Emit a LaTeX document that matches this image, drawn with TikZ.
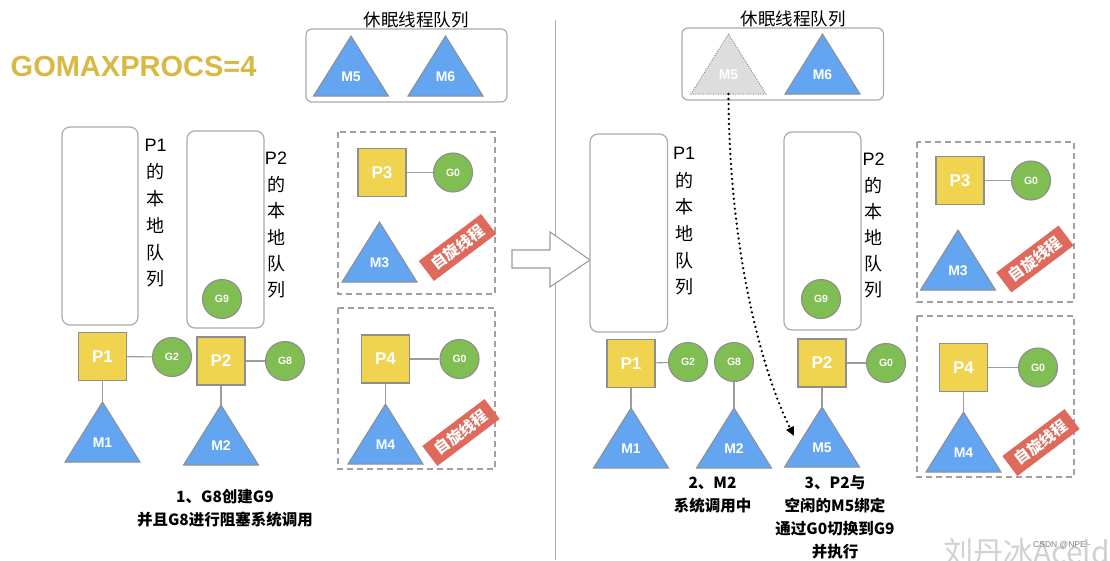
\documentclass[tikz,border=0pt]{standalone}
\usepackage{fontspec}
\setmainfont{Liberation Sans}
\newfontfamily\cjk{Noto Sans CJK SC}
\usetikzlibrary{arrows.meta}
\definecolor{pyel}{HTML}{F0D34E}
\definecolor{ggreen}{HTML}{80BD52}
\definecolor{mblue}{HTML}{63A5F0}
\definecolor{bred}{HTML}{DF6A5B}
\definecolor{gold}{HTML}{D9B944}
\definecolor{gbord}{HTML}{8E8E8E}
\definecolor{lgray}{HTML}{9C9C9C}
\definecolor{qgray}{HTML}{ABABAB}
\definecolor{dgray}{HTML}{A0A0A0}
\definecolor{ghost}{HTML}{DDDDDD}
\tikzset{
  psq/.style={draw=gbord, fill=pyel, minimum size=48pt, inner sep=0, line width=1.1pt, text=white, font=\fontsize{17}{17}\selectfont\bfseries},
  gcir/.style={circle, draw=gbord, fill=ggreen, minimum size=39pt, inner sep=0, line width=1.1pt, text=white, font=\fontsize{10.5}{10.5}\selectfont\bfseries},
  trib/.style={draw=gbord, fill=mblue, line width=1pt},
  trighost/.style={draw=gbord, fill=ghost, line width=1pt, dash pattern=on 1pt off 1.5pt},
  mlab/.style={text=white, font=\fontsize{14}{14}\selectfont\bfseries, inner sep=0},
  conn/.style={draw=lgray, line width=1.1pt},
  qbox/.style={draw=qgray, rounded corners=8pt, line width=1.2pt},
  sbox/.style={draw=qgray, rounded corners=6pt, line width=1.2pt},
  dbox/.style={draw=dgray, dash pattern=on 6pt off 4pt, line width=1.2pt},
  banner/.style={fill=bred, text=white, font=\cjk\bfseries\fontsize{15.5}{15.5}\selectfont, minimum width=78pt, minimum height=25pt, inner sep=0, rotate=37},
  vtext/.style={font=\cjk\fontsize{18}{18}\selectfont, inner sep=0},
  vlat/.style={font=\fontsize{18}{18}\selectfont, inner sep=0},
  captxt/.style={align=center, font=\cjk\bfseries\fontsize{15.5}{23}\selectfont, inner sep=0},
  stitle/.style={font=\cjk\fontsize{17.5}{17.5}\selectfont, inner sep=0},
  dotarrow/.style={line width=2.6pt, dash pattern=on 0pt off 5pt, line cap=round, -{Triangle[length=9pt,width=8pt]}},
}
% triangle: name, apex x, apex y, label, style
\newcommand\mtri[5]{%
  \coordinate (#1t) at (#2,#3);
  \coordinate (#1b) at (#2,#3+60);
  \draw[#5] (#1t) -- ++(-37.5,60) -- ++(75,0) -- cycle;
  \node[mlab] (#1) at (#2,#3+41) {#4};
}
% vertical queue label: prefix, x, first y, step, P-name
\newcommand\vlabel[5]{%
  \node[vlat] (#1p) at (#2,#3) {#5};
  \foreach \ch [count=\i] in {的,本,地,队,列}
    \node[vtext] (#1c\i) at (#2,#3+#4*\i) {\ch};
}
\begin{document}
\begin{tikzpicture}[x=1pt,y=-1pt]
\useasboundingbox (0,0) rectangle (1110,560);
\fill[white] (0,0) rectangle (1110,560);

% divider and big arrow
\coordinate (divtop) at (555.5,20);
\coordinate (divbot) at (555.5,560);
\draw[draw=qgray, line width=1pt] (divtop) -- (divbot);
\draw[draw=lgray, fill=white, line width=1.1pt] (512,250) -- (550,250) -- (550,232) -- (590,260) -- (550,287) -- (550,268) -- (512,268) -- cycle;

% ---------------- LEFT ----------------
\node[anchor=base west, inner sep=0, text=gold, font=\fontsize{29}{29}\selectfont\bfseries] (title) at (10.5,76) {GOMAXPROCS=4};

\node[stitle] (lstitle) at (416,20) {休眠线程队列};
\draw[sbox] (306,29) rectangle (507,102);
\mtri{lsM5}{351}{36}{M5}{trib}
\mtri{lsM6}{445.5}{36}{M6}{trib}

\draw[qbox] (62,127) rectangle (138,325);
\vlabel{lq1}{155.7}{145}{26.8}{P1}
\draw[qbox] (187,131) rectangle (264,328);
\vlabel{lq2}{276}{158.5}{26.3}{P2}
\node[gcir] (lG9) at (222,299) {G9};

\node[psq] (lP1) at (102.5,356.5) {P1};
\node[gcir] (lG2) at (172,357) {G2};
\mtri{lM1}{102.5}{402}{M1}{trib}
\draw[conn] (lP1) -- (lG2);
\draw[conn] (lP1.south) -- (lM1t);

\node[psq] (lP2) at (221,361) {P2};
\node[gcir] (lG8) at (285,361) {G8};
\mtri{lM2}{221}{405}{M2}{trib}
\draw[conn] (lP2) -- (lG8);
\draw[conn] (lP2.south) -- (lM2t);

\draw[dbox] (338,132) rectangle (495,294);
\node[psq] (lP3) at (382,172.5) {P3};
\node[gcir] (lG0a) at (453,172.5) {G0};
\draw[conn] (lP3) -- (lG0a);
\mtri{lM3}{379.5}{222}{M3}{trib}
\node[banner] (lban1) at (457.5,247.5) {自旋线程};

\draw[dbox] (338,308) rectangle (495,469);
\node[psq] (lP4) at (385.5,359) {P4};
\node[gcir] (lG0b) at (459.5,359) {G0};
\draw[conn] (lP4) -- (lG0b);
\mtri{lM4}{385.5}{404}{M4}{trib}
\draw[conn] (lP4.south) -- (lM4t);
\node[banner] (lban2) at (461,432.5) {自旋线程};

\node[captxt] (lcap) at (225,508) {1、G8创建G9\\并且G8进行阻塞系统调用};

% ---------------- RIGHT ----------------
\node[stitle] (rstitle) at (793,18.5) {休眠线程队列};
\draw[sbox] (682,28) rectangle (883.5,100);
\mtri{rsM5}{728.5}{34}{M5}{trighost}
\mtri{rsM6}{822.5}{34}{M6}{trib}

\draw[qbox] (590,134) rectangle (667.5,332);
\vlabel{rq1}{684}{153.5}{26.7}{P1}
\draw[qbox] (784,132) rectangle (861,330);
\vlabel{rq2}{873.6}{159.5}{26.1}{P2}
\node[gcir] (rG9) at (821,299) {G9};

\node[psq] (rP1) at (631,363.5) {P1};
\node[gcir] (rG2) at (688,362) {G2};
\mtri{rM1}{631}{408}{M1}{trib}
\draw[conn] (rP1) -- (rG2);
\draw[conn] (rP1.south) -- (rM1t);

\node[gcir] (rG8) at (734,362) {G8};
\mtri{rM2}{734}{408}{M2}{trib}
\draw[conn] (rG8.south) -- (rM2t);

\node[psq] (rP2) at (822,363) {P2};
\node[gcir] (rG0c) at (886,363) {G0};
\mtri{rM5}{822}{407}{M5}{trib}
\draw[conn] (rP2) -- (rG0c);
\draw[conn] (rP2.south) -- (rM5t);

\draw[dbox] (917,142) rectangle (1074,302);
\node[psq] (rP3) at (960,180.5) {P3};
\node[gcir] (rG0a) at (1031,180.5) {G0};
\draw[conn] (rP3) -- (rG0a);
\mtri{rM3}{958}{230}{M3}{trib}
\node[banner] (rban1) at (1035,259) {自旋线程};

\draw[dbox] (917,316) rectangle (1074,477);
\node[psq] (rP4) at (963.5,367.5) {P4};
\node[gcir] (rG0b) at (1038,367.5) {G0};
\draw[conn] (rP4) -- (rG0b);
\mtri{rM4}{963.5}{412}{M4}{trib}
\draw[conn] (rP4.south) -- (rM4t);
\node[banner] (rban2) at (1041,442.5) {自旋线程};

% dotted move arrow
\coordinate (arrEnd) at (794,436);
\draw[dotarrow] (rsM5b) .. controls (729,250) and (762,372) .. (arrEnd);

\node[captxt] (rcap2) at (712.5,495) {2、M2\\系统调用中};
\node[captxt] (rcap3) at (835,517.5) {3、P2与\\空闲的M5绑定\\通过G0切换到G9\\并执行};

% watermark
\node[anchor=base west, inner sep=0, text=black!18, font=\cjk\fontsize{30}{30}\selectfont] (wm) at (943,563) {刘丹冰Aceld};
\node[anchor=west, inner sep=0, text=black!50, font=\fontsize{8.5}{8.5}\selectfont] (csdn) at (1033,545) {CSDN @NPE\textasciitilde};
\end{tikzpicture}
\end{document}
